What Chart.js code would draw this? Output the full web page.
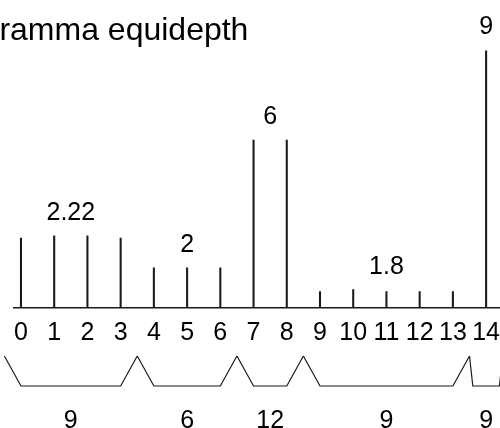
<!DOCTYPE html>
<html>
<head>
<meta charset="utf-8">
<script src="https://cdn.jsdelivr.net/npm/chart.js@4.4.1/dist/chart.umd.min.js"></script>
<style>
  html, body { margin: 0; padding: 0; background: #ffffff; }
  #wrap { position: relative; width: 500px; height: 428px; overflow: hidden; background: #ffffff; }
  #inner { position: absolute; left: -70px; top: 0; width: 590px; height: 428px; }
  canvas { display: block; }
</style>
</head>
<body>
<div id="wrap"><div id="inner"><canvas id="c" width="590" height="428" style="width:590px;height:428px"></canvas></div></div>
<script>
// ---- data ----
const chartTitle = 'Istogramma equidepth';
const tickLabels = ['0','1','2','3','4','5','6','7','8','9','10','11','12','13','14'];
const binValues  = [0, 1, 2, 3, 4, 5, 6, 7, 8, 9, 10, 11, 12, 13, 14];
const binHeights = [2.44, 2.52, 2.52, 2.44, 1.40, 1.40, 1.40, 5.87, 5.87, 0.57, 0.64, 0.57, 0.57, 0.57, 9];
const groupStart = [0, 4, 7, 9, 14];
const groupEnd   = [3, 6, 8, 13, 14];
const groupDepth = ['9', '6', '12', '9', '9'];
const groupAvg   = ['2.22', '2', '6', '1.8', '9'];

const FONT = '"Liberation Sans", Arial, Helvetica, sans-serif';

const groupsPlugin = {
  id: 'groups',
  afterDatasetsDraw(chart) {
    const ctx = chart.ctx;
    const xs = chart.scales.x, ys = chart.scales.y;
    ctx.save();
    ctx.fillStyle = '#000';
    ctx.strokeStyle = '#1a1a1a';
    ctx.lineWidth = 1.2;
    ctx.font = '25px ' + FONT;
    ctx.textAlign = 'center';
    ctx.textBaseline = 'alphabetic';
    for (let g = 0; g < groupStart.length; g++) {
      const s = groupStart[g], e = groupEnd[g];
      let maxH = 0;
      for (let i = 0; i < binValues.length; i++) {
        if (binValues[i] >= s && binValues[i] <= e) maxH = Math.max(maxH, binHeights[i]);
      }
      const cx = xs.getPixelForValue((s + e) / 2);
      // average label above the group
      ctx.fillText(groupAvg[g], cx, ys.getPixelForValue(maxH) - 16);
      // bracket below the axis
      const h = (s === e) ? 0.4 : 0;
      const yTop = 356, yBot = 386;
      ctx.beginPath();
      ctx.moveTo(xs.getPixelForValue(s - 0.5), yTop);
      ctx.lineTo(xs.getPixelForValue(s - h), yBot);
      ctx.lineTo(xs.getPixelForValue(e + h), yBot);
      ctx.lineTo(xs.getPixelForValue(e + 0.5), yTop);
      ctx.stroke();
      // depth label under bracket
      ctx.fillText(groupDepth[g], cx, 428);
    }
    ctx.restore();
  }
};

new Chart(document.getElementById('c'), {
  type: 'bar',
  data: {
    datasets: [{
      data: binValues.map((v, i) => ({ x: v, y: binHeights[i] })),
      backgroundColor: '#1a1a1a',
      borderWidth: 0,
      barThickness: 1.4
    }]
  },
  options: {
    responsive: false,
    animation: false,
    devicePixelRatio: 1,
    layout: { autoPadding: false, padding: { left: 0, right: 0, top: 0, bottom: 70 } },
    plugins: {
      legend: { display: false },
      tooltip: { enabled: false },
      title: {
        display: true,
        text: chartTitle,
        align: 'start',
        color: '#000',
        font: { family: FONT, size: 32, weight: 'normal' },
        padding: { top: 12, bottom: 0 }
      }
    },
    scales: {
      x: {
        type: 'linear',
        offset: false,
        min: -0.21,
        max: 15.02,
        afterBuildTicks: (scale) => { scale.ticks = binValues.map(v => ({ value: v })); },
        ticks: {
          autoSkip: false,
          maxRotation: 0,
          padding: 10,
          color: '#000',
          font: { family: FONT, size: 25 },
          callback: (value) => tickLabels[binValues.indexOf(value)]
        },
        grid: { display: false, drawTicks: false, offset: false },
        border: { display: true, color: '#1a1a1a', width: 1.5 }
      },
      y: {
        min: 0,
        max: 9,
        ticks: { display: false },
        grid: { display: false, drawTicks: false },
        border: { display: false },
        afterFit: (scale) => { scale.width = 84; }
      }
    }
  },
  plugins: [groupsPlugin]
});
</script>
</body>
</html>
